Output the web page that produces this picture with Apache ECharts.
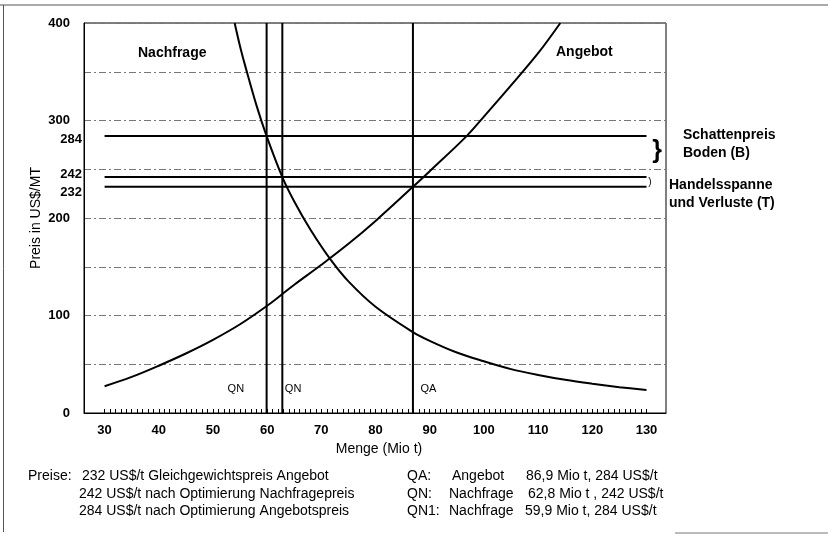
<!DOCTYPE html>
<html>
<head>
<meta charset="utf-8">
<script src="https://cdn.jsdelivr.net/npm/echarts@6/dist/echarts.min.js"></script>
<style>
html,body{margin:0;padding:0;background:#fff;}
#chart{width:828px;height:534px;}
</style>
</head>
<body>
<div id="chart"></div>
<script>
// ---- data ----
const demandQ = [54, 55, 56, 58, 59.9, 62.8, 65, 68, 71.75, 75, 80, 86.9, 90, 95, 100, 105, 110, 115, 120, 125, 130];
const demandP = [400, 376, 355, 316, 284, 242, 217, 188, 157, 135, 109, 83, 74, 62, 53, 45, 39, 34, 30, 26.5, 23.5];
const supplyQ = [30, 35, 40, 45, 50, 55, 60, 62.8, 65, 70, 75, 80, 86.9, 90, 96.8, 100, 105, 110, 114.1];
const supplyP = [27.5, 37, 48.5, 61, 75, 91, 110, 122, 131.5, 152, 173.5, 197, 232, 248, 284, 304, 336, 369, 400];
const priceLevels = [284, 242, 232];
const priceRangeQ = [30, 130];
const quantityLevels = [59.9, 62.8, 86.9];
const quantityLabels = ['QN', 'QN', 'QA'];
const quantityRangeP = [0, 400];
const yTickLabels = [0, 100, 200, 232, 242, 284, 300, 400];
const xTickLabels = [30, 40, 50, 60, 70, 80, 90, 100, 110, 120, 130];
const xMinorTicks = [];
for (let q = 30; q <= 130; q++) xMinorTicks.push(q);

const FONT = '"Liberation Sans", Arial, sans-serif';
const chart = echarts.init(document.getElementById('chart'), null, {renderer: 'canvas'});

const series = [];
series.push({
  name: 'Nachfrage', type: 'line', data: demandQ.map((q, i) => [q, demandP[i]]),
  showSymbol: false, smooth: 0.35,
  lineStyle: {color: '#000', width: 2}, z: 5, silent: true
});
series.push({
  name: 'Angebot', type: 'line', data: supplyQ.map((q, i) => [q, supplyP[i]]),
  showSymbol: false, smooth: 0.35,
  lineStyle: {color: '#000', width: 2}, z: 5, silent: true
});
priceLevels.forEach(p => {
  series.push({
    type: 'line', data: priceRangeQ.map(q => [q, p]), showSymbol: false,
    lineStyle: {color: '#000', width: 2}, z: 4, silent: true
  });
});
const qLabelPos = [
  {position: 'left', offset: [-20, -24]},
  {position: 'right', offset: [0, -24]},
  {position: 'right', offset: [5, -24]}
];
quantityLevels.forEach((q, i) => {
  series.push({
    type: 'line', showSymbol: true, symbol: 'circle', symbolSize: 1,
    itemStyle: {color: 'rgba(0,0,0,0)', borderWidth: 0},
    data: quantityRangeP.map((p, j) => ({
      value: [q, p],
      label: j === 0 ? {
        show: true, formatter: quantityLabels[i],
        position: qLabelPos[i].position, offset: qLabelPos[i].offset, distance: 2,
        color: '#000', fontSize: 11, fontFamily: FONT
      } : {show: false}
    })),
    lineStyle: {color: '#000', width: 2}, z: 4, silent: true
  });
});

const yRich = {
  s: {fontWeight: 'bold', fontSize: 13, fontFamily: FONT, color: '#000', padding: [0, 12, 0, 0]},
  a: {fontWeight: 'bold', fontSize: 13, fontFamily: FONT, color: '#000', padding: [6, 0, 0, 0]},
  b: {fontWeight: 'bold', fontSize: 13, fontFamily: FONT, color: '#000', padding: [0, 0, 5, 0]},
  c: {fontWeight: 'bold', fontSize: 13, fontFamily: FONT, color: '#000', padding: [12, 0, 0, 0]}
};

function txt(x, y, s, bold, extra) {
  return {type: 'text', x: x, y: y, silent: true,
    style: Object.assign({text: s, fill: '#000', font: (bold ? 'bold ' : '') + '14px ' + FONT, verticalAlign: 'middle'}, extra || {})};
}

const option = {
  backgroundColor: '#fff',
  animation: false,
  grid: {left: 84, top: 23, right: 162, bottom: 121, show: true, borderColor: '#000', borderWidth: 1},
  xAxis: {
    type: 'value', min: 26.2, max: 133.6,
    name: 'Menge (Mio t)', nameLocation: 'middle', nameGap: 29, nameMoveOverlap: false,
    nameTextStyle: {fontSize: 14, fontFamily: FONT, color: '#000', padding: [0, 0, 0, 8]},
    axisLine: {show: true, onZero: false, lineStyle: {color: '#000', width: 1}},
    axisTick: {show: true, inside: true, length: 4, customValues: xMinorTicks, lineStyle: {color: '#000', width: 1}},
    axisLabel: {customValues: xTickLabels, fontSize: 13, fontWeight: 'bold', fontFamily: FONT, color: '#000', margin: 11},
    splitLine: {show: false}
  },
  yAxis: {
    type: 'value', min: 0, max: 400, interval: 50,
    name: 'Preis in US$/MT', nameLocation: 'middle', nameGap: 41, nameRotate: 90, nameMoveOverlap: false,
    nameTextStyle: {fontSize: 14, fontFamily: FONT, color: '#000'},
    axisLine: {show: true, lineStyle: {color: '#000', width: 1}},
    axisTick: {show: false},
    axisLabel: {
      customValues: yTickLabels, margin: 2,
      formatter: v => v === 284 ? '{a|284}' : v === 242 ? '{b|242}' : v === 232 ? '{c|232}' : '{s|' + v + '}',
      rich: yRich
    },
    splitLine: {show: true, lineStyle: {color: '#777', width: 1, type: [7, 3, 2, 3]}}
  },
  series: series,
  graphic: [
    {type: 'line', silent: true, shape: {x1: 0, y1: 5, x2: 828, y2: 5}, style: {stroke: '#555', lineWidth: 1}},
    {type: 'line', silent: true, shape: {x1: 3.5, y1: 5, x2: 3.5, y2: 532}, style: {stroke: '#555', lineWidth: 1}},
    {type: 'line', silent: true, shape: {x1: 675, y1: 533, x2: 828, y2: 533}, style: {stroke: '#777', lineWidth: 1}},
    txt(138, 53, 'Nachfrage', true),
    txt(556, 52, 'Angebot', true),
    txt(683, 135, 'Schattenpreis', true),
    txt(683, 153, 'Boden (B)', true),
    txt(657, 151, '}', true, {font: 'bold 25px ' + FONT, align: 'center'}),
    txt(650, 182, ')', false, {font: '10px ' + FONT, align: 'center'}),
    txt(669, 185, 'Handelsspanne', true),
    txt(669, 203, 'und Verluste (T)', true),
    txt(28, 476, 'Preise:', false),
    txt(82, 476, '232 US$/t Gleichgewichtspreis Angebot', false),
    txt(79, 494, '242 US$/t nach Optimierung Nachfragepreis', false),
    txt(79, 511, '284 US$/t nach Optimierung Angebotspreis', false),
    txt(407, 476, 'QA:', false),
    txt(452, 476, 'Angebot', false),
    txt(526, 476, '86,9 Mio t, 284 US$/t', false),
    txt(407, 494, 'QN:', false),
    txt(449, 494, 'Nachfrage', false),
    txt(528, 494, '62,8 Mio t , 242 US$/t', false),
    txt(407, 511, 'QN1:', false),
    txt(449, 511, 'Nachfrage', false),
    txt(525, 511, '59,9 Mio t, 284 US$/t', false)
  ]
};
chart.setOption(option);
</script>
</body>
</html>
